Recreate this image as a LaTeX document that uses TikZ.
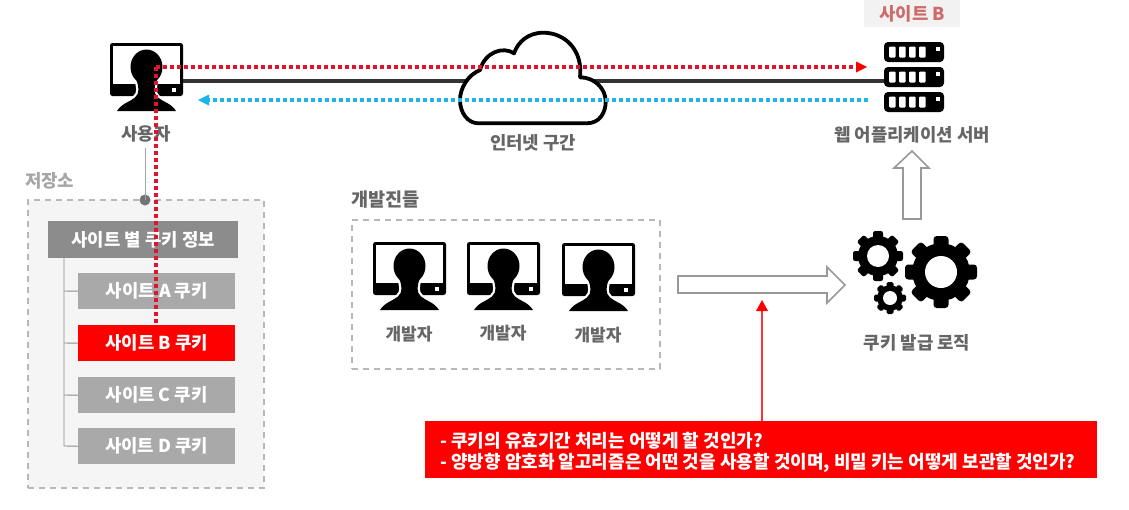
\documentclass[tikz,border=0pt]{standalone}
\usepackage{fontspec}
\setmainfont{Noto Sans CJK KR}
\usetikzlibrary{arrows.meta}
\definecolor{txt}{HTML}{666666}
\definecolor{hdr}{HTML}{8C8C8C}
\definecolor{item}{HTML}{A9A9A9}
\definecolor{dash}{HTML}{B8B8B8}
\definecolor{hot}{HTML}{FE0000}
\definecolor{sky}{HTML}{1FB4E8}
\definecolor{dotred}{HTML}{E0142C}
\definecolor{sitelbl}{HTML}{CF6A6A}
\newcommand{\fs}[1]{\fontsize{#1}{#1}\selectfont}
\tikzset{
  x=1pt,y=-1pt,
  lbl/.style={text=txt,inner sep=0pt,font=\fs{17.8}\bfseries},
  box/.style={anchor=north west,inner sep=0pt,text=white,font=\fs{17.8}\bfseries,align=center},
  dashbox/.style={draw=dash,line width=1.5pt,dash pattern=on 6pt off 5pt,anchor=north west,inner sep=0pt},
  hollow/.style={draw=black!40,line width=1.6pt,fill=white,line join=miter},
  treeline/.style={draw=black!45,line width=.9pt},
  reddots/.style={draw=dotred,line width=4pt,dash pattern=on 3.6pt off 3.4pt},
  bluedots/.style={draw=sky,line width=4pt,dash pattern=on 3.6pt off 3.4pt},
  pics/usericon/.style={code={
    \fill[black,rounded corners=2.5pt] (0,0) rectangle (73,53);
    \fill[white] (3,3) rectangle (70,40.5);
    \fill[white] (61.5,45) rectangle (65.5,49);
    \path[fill=white,draw=white,line width=4.5pt]
      (7,68) .. controls (12,60) and (20,59) .. (25,54.5)
      .. controls (30,50) and (29,44) .. (26,36)
      -- (47,36)
      .. controls (44,44) and (43,50) .. (48,54.5)
      .. controls (53,59) and (61,60) .. (66,68) -- cycle;
    \fill[black]
      (7,68) .. controls (12,60) and (20,59) .. (25,54.5)
      .. controls (30,50) and (29,44) .. (26,36)
      -- (47,36)
      .. controls (44,44) and (43,50) .. (48,54.5)
      .. controls (53,59) and (61,60) .. (66,68) -- cycle;
    \fill[black] (36.5,24) ellipse[x radius=16,y radius=17.5];
  }},
  pics/serverunit/.style={code={
    \fill[black,rounded corners=4pt] (0,0) rectangle (60,20);
    \foreach \sx in {5,15,25,35}{\fill[white,rounded corners=1pt] (\sx,4.5) rectangle ++(6.5,11);}
    \fill[white] (51.5,4.5) rectangle ++(4.5,4.5);
  }}
}
% gear: cx cy outer-radius hole-radius tooth-width
\newcommand{\gear}[5]{%
  \foreach \ang in {0,45,...,315}{%
    \fill[black,rounded corners=#5*0.22pt,rotate around={\ang:(#1,#2)}]
      (#1-#5/2,#2) rectangle (#1+#5/2,#2-#3);}
  \fill[black] (#1,#2) circle[radius=#3*0.8];
  \fill[white] (#1,#2) circle[radius=#4];
}
\begin{document}
\begin{tikzpicture}
\useasboundingbox (0,0) rectangle (1129,509);
\fill[white] (0,0) rectangle (1129,509);

% wire and cloud
\coordinate (wireL) at (183,81);
\coordinate (wireR) at (885,81);
\draw[black!80,line width=3.6pt] (wireL) -- (wireR);
\path[fill=white,draw=black,line width=3.8pt,line join=round]
  (478.3,123.3) -- (586.7,123.3)
  .. controls (600,123.3) and (605.7,112) .. (605.7,101.7)
  .. controls (605.7,88) and (594,77.3) .. (580,77.3)
  .. controls (583,50) and (565,32.7) .. (543.3,32.7)
  .. controls (528,32.7) and (518,42) .. (514,53.3)
  .. controls (503,46) and (485,52) .. (480,70)
  .. controls (468,75) and (460,88) .. (460,100)
  .. controls (460,113) and (468,123.3) .. (478.3,123.3) -- cycle;
\node[lbl] (cloudlbl) at (533,143) {인터넷 구간};

% storage
\node[dashbox,fill=black!4,minimum width=236pt,minimum height=288pt] (store) at (27,199) {};
\node[lbl,text=black!35,anchor=west] (storelbl) at (25,181) {저장소};
\node[box,fill=hdr,minimum width=190pt,minimum height=37pt] (hdrbox) at (48,221) {사이트 별 쿠키 정보};
\node[box,fill=item,minimum width=157pt,minimum height=36pt] (siteA) at (78,273) {사이트 A 쿠키};
\node[box,fill=hot,minimum width=157pt,minimum height=36pt] (siteB) at (78,325) {사이트 B 쿠키};
\node[box,fill=item,minimum width=157pt,minimum height=36pt] (siteC) at (78,377) {사이트 C 쿠키};
\node[box,fill=item,minimum width=157pt,minimum height=36pt] (siteD) at (78,428) {사이트 D 쿠키};
\draw[treeline] (64,258) -- (64,446) -- (siteD.west);
\draw[treeline] (64,291) -- (siteA.west);
\draw[treeline] (64,343) -- (siteB.west);
\draw[treeline] (64,395) -- (siteC.west);

% user
\pic at (110,43) {usericon};
\node[lbl] (user) at (146,134) {사용자};
\fill[black!55] (145,200) circle[radius=5.5];
\coordinate (pin) at (145,200);
\draw[black!35,line width=1pt] (145,148) -- (pin);

% server
\node[inner sep=0pt,fill=black!5,anchor=north west,minimum width=96pt,minimum height=27pt,text=sitelbl,font=\fs{17.8}\bfseries] (siteBlbl) at (864,0) {사이트 B};
\pic at (884,42) {serverunit};
\pic at (884,67) {serverunit};
\pic at (884,92) {serverunit};
\node[lbl] (server) at (912,135) {웹 어플리케이션 서버};

% dotted flows
\coordinate (redS) at (156,67);
\coordinate (redE) at (867,67);
\coordinate (bluS) at (868,100);
\coordinate (bluE) at (198,100);
\draw[reddots] (redS) -- (857,67);
\fill[hot] (redE) -- (856,61.5) -- (856,72.5) -- cycle;
\draw[bluedots] (bluS) -- (208,100);
\fill[sky] (bluE) -- (209,94.5) -- (209,105.5) -- cycle;
\draw[reddots] (redS) -- (siteB.north -| redS);

% developers
\node[lbl,anchor=west,font=\fs{18.6}\bfseries] (devs) at (351,200) {개발진들};
\node[dashbox,minimum width=308pt,minimum height=149pt] (devbox) at (351,219) {};
\pic at (373,242) {usericon};
\pic at (467,242) {usericon};
\pic at (562,243) {usericon};
\node[lbl,font=\fs{17}\bfseries] (dev1) at (409,334) {개발자};
\node[lbl,font=\fs{17}\bfseries] (dev2) at (503,333) {개발자};
\node[lbl,font=\fs{17}\bfseries] (dev3) at (598,335) {개발자};

% hollow arrows
\path[hollow] (678,276) -- (827,276) -- (827,267) -- (845,285) -- (827,303) -- (827,293) -- (678,293) -- cycle;
\path[hollow] (903,219) -- (903,168) -- (894,168) -- (912,151) -- (929,168) -- (921,168) -- (921,219) -- cycle;

% gears
\gear{941}{272}{36}{16}{15}
\gear{878}{256}{25}{11}{10}
\gear{890}{298}{16}{7}{7}
\node[lbl] (logic) at (917,343) {쿠키 발급 로직};

% red note
\node[anchor=north west,fill=hot,minimum width=672pt,minimum height=57pt,inner sep=0pt] (note) at (425,421) {};
\node[anchor=west,inner sep=0pt,text=white,font=\fs{18}\bfseries,align=left] (notetext) at (440,452)
  {- 쿠키의 유효기간 처리는 어떻게 할 것인가?\\[3pt]- 양방향 암호화 알고리즘은 어떤 것을 사용할 것이며, 비밀 키는 어떻게 보관할 것인가?};
\coordinate (tip) at (762,300);
\draw[hot!80,line width=1.2pt] (note.north -| tip) -- (762,310);
\fill[hot] (tip) -- (756,311) -- (768,311) -- cycle;
\end{tikzpicture}
\end{document}
